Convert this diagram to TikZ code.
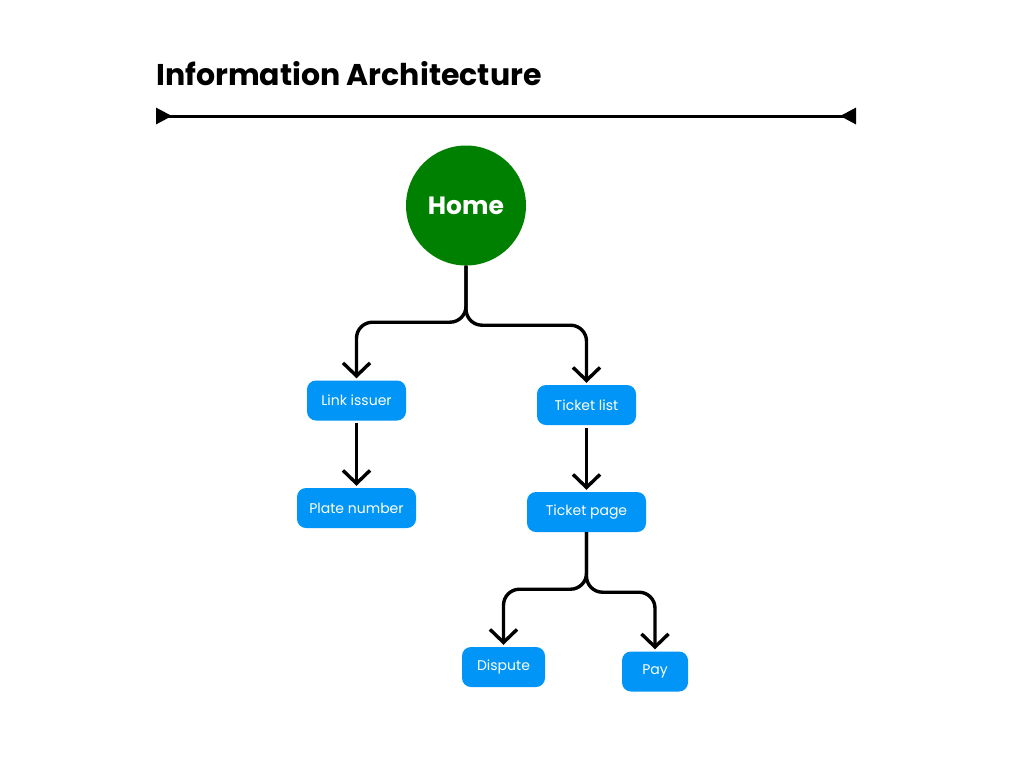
\documentclass[tikz,border=0pt]{standalone}
\usepackage{fontspec}
\setmainfont{Poppins}
\usepackage{tikz}
\usetikzlibrary{arrows.meta}
\definecolor{homegreen}{RGB}{0,128,0}
\definecolor{pageblue}{RGB}{0,149,246}
\tikzset{
  page/.style={fill=pageblue, text=white, rounded corners=9pt, minimum height=40pt, inner xsep=8pt, font=\fontsize{14}{16}\selectfont},
  link/.style={line width=3.4pt, rounded corners=16pt, -{Straight Barb[length=13pt,width=27pt]}, shorten >=2pt},
}

\begin{document}
\begin{tikzpicture}[x=1pt,y=-1pt]
\useasboundingbox (0,0) rectangle (1012,756);
\fill[white] (0,0) rectangle (1012,756);
\node[anchor=base west, inner sep=0, font=\bfseries\fontsize{30}{36}\selectfont] (title) at (156,85) {Information Architecture};
\coordinate (rulestart) at (156,116);
\coordinate (ruleend) at (856,116);
\draw[line width=3pt, {Triangle[reversed,length=16pt,width=16pt]}-{Triangle[reversed,length=16pt,width=16pt]}] (rulestart) -- (ruleend);

\node[circle, fill=homegreen, minimum size=120pt, inner sep=0, text=white, font=\bfseries\fontsize{25}{30}\selectfont] (home) at (466,205.5) {Home};
\node[page, minimum width=99pt] (issuer) at (356.5,400.5) {Link issuer};
\node[page, minimum width=119pt] (plate) at (356.5,508) {Plate number};
\node[page, minimum width=99pt] (tickets) at (586.5,405) {Ticket list};
\node[page, minimum width=119pt] (ticket) at (586.5,512) {Ticket page};
\node[page, minimum width=83pt] (dispute) at (503.5,667) {Dispute};
\node[page, minimum width=66pt] (pay) at (655,671.5) {Pay};

\draw[link] (home.south) -- ++(0,56.5) -| (issuer.north);
\draw[link] (home.south) -- ++(0,59.5) -| (tickets.north);
\draw[link, shorten <=2pt] (issuer.south) -- (plate.north);
\draw[link, shorten <=3pt] (tickets.south) -- (ticket.north);
\draw[link] (ticket.south) -- ++(0,57) -| (dispute.north);
\draw[link] (ticket.south) -- ++(0,60) -| (pay.north);
\end{tikzpicture}
\end{document}
